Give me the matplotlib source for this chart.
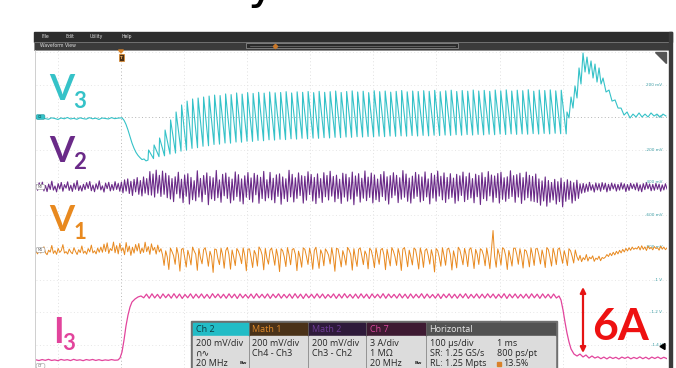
import numpy as np
import matplotlib.pyplot as plt
from matplotlib.patches import Rectangle, FancyBboxPatch, Polygon

W, H = 676, 368

C_V3 = "#35c2c8"
C_V2 = "#6a2a88"
C_V1 = "#e8891f"
C_I3 = "#e2449c"

# ---- Ch2 (V3), mV, 200 mV/div ----
v3_pre = [-6, -12, -4, -10, -14, -5, -9, -15, -6, -11, -3, -12, -8, -14,
          -5, -10, -13, -4, -11, -7, -15, -6, -9, -12, -4, -10, -7, -5]
v3_drop_t = [1.6, 4.8, 7.9, 11.1, 14.3, 17.4, 20.6, 23.8, 26.9, 30.1, 33.3, 36.5, 39.6]
v3_drop = [-5, -20, -45, -80, -120, -160, -192, -218, -236, -250, -262, -258, -270]
v3_troughs = [-265, -256, -244, -239, -228, -222, -210, -204, -193, -189, -180, -177, -169, -167, -160, -161,
              -154, -155, -149, -150, -144, -146, -140, -142, -137, -139, -134, -136, -131, -134, -130,
              -131, -127, -129, -125, -127, -123, -125, -121, -123, -120, -122, -118, -121, -117, -119,
              -116, -118, -114, -117, -113,
              -116, -112, -114, -111, -113, -109, -112, -108, -111, -107, -110, -106, -109, -105, -108,
              -104, -107, -104, -106, -102, -105, -101, -104, -100, -103]
v3_peaks = [-203, -172, -129, -80, -18, 31, 74, 98, 111, 117, 123, 129, 135, 132, 142, 138,
            148, 141, 150, 145, 152, 147, 154, 149, 151, 156, 148, 155, 152, 157, 150,
            158, 152, 156, 160, 151, 157, 161, 154, 159, 150, 162, 156, 160, 153, 158, 163, 155, 160, 157, 162,
            158, 164, 156, 161, 165, 157, 163, 159, 166, 160, 164, 158, 166, 161, 167, 160, 165, 162, 168,
            159, 166, 163, 167, 161, 165]
v3_last_trough = -104
v3_post_t = [706.8, 710.0, 713.2, 716.3, 719.5, 722.7, 725.9, 729.0, 732.2, 735.4, 738.5, 741.7,
             744.9, 748.1, 751.2, 754.4, 757.6, 760.8, 763.9, 768.7, 773.4, 778.2, 783.0, 787.7,
             792.5, 797.2, 802.0, 806.7, 811.4, 816.2, 821.0, 825.7, 830.5, 835.2, 840.0, 844.8,
             849.4, 854.2, 859.0, 863.7]
v3_post = [31, -6, 123, 55, 191, 117, 302, 203, 394, 277, 369, 265, 345, 240, 326, 215, 302, 203,
           240, 154, 166, 98, 105, 55, 55, 12, 31, -6, 18, 0, 25, 0, 18, 0, 25, 6, 18, 0, 18, 6]

# ---- Math 2 (V2), mV, 200 mV/div ----
v2 = [14, -20, 26, -11, 30, -24, 9, -28, 18, -15,
      36, -19, 6, -30, 21, -12, 28, -26, 15, -7,
      32, -21, 11, -27, 23, -14, 40, -22, 8, -25,
      17, -16, 27, -9, 34, -23, 12, -29, 20, -13,
      38, -18, 7, -31, 24, -10, 29, -24, 16, -20,
      33, -15, 22, -26,
      30, -36, 44, -25, 50, -40, 35, -52, 47, -30, 58, -45, 40, -55, 62, -38, 52, -48,
      95, -50, 80, -62, 104, -38, 72, -58, 98, -45, 85, -66,
      70, -74, 52, -90, 63, -42, 91, -68, 48, -96,
      74, -57, 82, -105, 59, -78, 39, -85, 100, -62,
      53, -91, 71, -46, 87, -109, 65, -73, 57, -83,
      102, -66, 44, -94, 78, -54, 86, -70, 61, -98,
      49, -81, 93, -59, 76, -88, 50, -104, 69, -63,
      89, -77, 56, -93, 84, -48, 73, -100, 60, -71,
      96, -85, 45, -67, 90, -79, 54, -97, 75, -58,
      81, -106, 62, -72, 51, -89, 103, -61, 78, -92,
      57, -70, 87, -53, 70, -99, 66, -81, 94, -46,
      77, -86, 59, -102, 81, -67, 52, -95, 88, -60,
      71, -80, 97, -56, 65, -91, 73, -71, 48, -101,
      85, -62, 79, -87, 58, -74, 92, -109, 68, -57,
      82, -93, 54, -69, 99, -84, 61, -64, 86, -98,
      74, -78, 49, -90, 77, -59, 95, -82, 63, -105,
      70, -66, 88, -51, 72, -96, 57, -75, 101, -63,
      80, -88, 55, -99, 67, -70, 90, -58, 76, -92,
      62, -83, 93, -61, 50, -104, 84, -68, 73, -87,
      98, -56, 66, -79, 87, -95, 59, -73, 82, -64,
      55, -100, 78, -85, 69, -52, 92, -90, 64, -77,
      86, -67, 52, -97, 79, -60, 71, -108, 88, -72,
      60, -84, 95, -55, 74, -93, 68, -65, 83, -99,
      91, -76, 57, -88, 63, -71, 100, -59, 70, -94,
      76, -62, 85, -101, 58, -80, 92, -66, 72, -86,
      65, -90, 80,
      -95, 50, -112, 38, -86, 62, -118, 40, -94, 28,
      -80, 47, -105, 33, -90, 55, -122, 30, -88, 45,
      -76, 36, -99, 26, -84, 42, -70, 20,
      -38, 22, -33, 18, -27, 29, -20, 14, -31, 25,
      -18, 21, -26, 27, -15, 23, -30, 17, -22, 24,
      -12, 19, -25, 16, -19, 26, -13, 20, -28, 15,
      -21, 23, -10, 18, -17, 25, -24, 14, -29, 21,
      -16, 27, -11, 19, -23, 16, -20, 22, -14, 18,
      -26, 13, -18, 20, -12]

# ---- Math 1 (V1), mV, 200 mV/div ----
v1 = [-8, -24, 4, -19, -6, 20, -17, -29, -1, -13,
      28, -21, -4, -27, 10, -15, -3, 33, -19, -10,
      -25, 6, -13, -23, 14, -9, -28, 2, -16, 25,
      -20, -7, -26, 9, -12, 30, -18, -5, -24, 12,
      -14,
      18, -14, 36, -9, 44, -21, 9, -4, 49, -17,
      27, -24, 41, -7, 14, -29, 46, -11, 24, -33,
      17, -19, 34, -6, 40, -22, 12, -15, 48, -10,
      21, -27, 38, -3, 16, -25, 30, -12,
      8, -30, -95, -5, -42, -120, 12,
      -10, -35, -88, 15, -28, -130, 4,
      10, -45, -105, -2, -38, -92, 18,
      -6, -26, -125, 9, -48, -85, 2,
      14, -33, -100, -8, -40, -138, 6,
      3, -52, -90, 11, -30, -112, -4,
      16, -29, -118, 0, -44, -96, 9,
      -8, -38, -84, 13, -34, -128, 5,
      7, -47, -108, -3, -27, -99, 19,
      2, -31, -122, 10, -50, -87, -1,
      12, -36, -94, 6, -41, -133, 8,
      -5, -43, -102, 15, -29, -91, 3,
      9, -27, -127, -7, -46, -106, 13,
      4, -39, -89, 11, -33, -119, -2,
      17, -48, -113, 1, -25, -97, 7,
      -9, -32, -86, 14, -42, -131, 10,
      6, -44, -104, -4, -37, -93, 16,
      0, -28, -124, 8, -51, -101, 4,
      13, -35, -90, -6, -30, -116, 11,
      -3, -46, -109, 12, -39, -88, 1,
      10, -30, -121, 5, -45, -98, 15,
      -7, -41, -95, 9, -32, -126, 6,
      15, -37, -103, -1, -43, -92, 12,
      3, -49, -117, 13, -28, -107, -3,
      8, -33, -87, 2, -40, -135, 9,
      -4, -45, -100, 14, -35, -94, 5,
      11, -29, -123, -5, -47, -110, 17,
      1, -42, -91, 10, -31, -102, 3,
      14, -38, -114, 4, -26, -89, 8,
      -2, -34, -97, 12, -44, -115, 6,
      120, -40, -106, 7, -30, -93, 14,
      5, -36, -120, -3, -46, -99, 10,
      12, -27, -88, 8, -38, -111, 2,
      -6, -43, -104, 13, -33, -95, 7,
      9, -31, -86, 0, -41, -108, 15,
      2, -45, -99, 11, -29, -90, 4,
      13, -34, -82, -4, -42, -96, 8,
      -5, -38, -80, 0,
      -40, -64, -33, -72, -47, -60, -28, -68, -44, -54, -36, -70, -50, -58, -38, -66, -46, -52,
      -44, -28, -40, -20, -35, -14, -30, -8, -24, -2, -18, 4, -12, 10, -6, 14, -2, 18, 4, 12, 6,
      22, 0, 26, 4, 19, -3, 24, 7, 16, 1, 21, 9, 14, -1, 23, 5, 18, 2, 12]

# ---- Ch7 (I3), A, 3 A/div ----
i3_pre = [0.02, -0.05, 0.04, -0.03, 0.06, -0.04, 0.01, -0.06, 0.05, -0.02, 0.03, -0.05, 0.06,
          -0.03, 0.02, -0.06, 0.04, -0.02, 0.05, -0.04, 0.03, -0.05, 0.01, -0.03, 0.04, -0.02]
i3_rise_t = [-4.8, -1.6, 1.6, 4.8, 7.9, 11.1, 14.3, 17.4, 22.2, 27.0, 31.7]
i3_rise = [0.0, 0.18, 0.74, 1.85, 3.14, 4.15, 4.89, 5.35, 5.63, 5.82, 5.91]
i3_lo = [5.74, 5.70, 5.73, 5.69, 5.75, 5.71, 5.72, 5.68, 5.74, 5.70,
         5.73, 5.71, 5.69, 5.75, 5.72, 5.70, 5.74, 5.68, 5.73, 5.71,
         5.70, 5.74, 5.72, 5.69, 5.75, 5.71, 5.73, 5.70, 5.72, 5.68,
         5.74, 5.71, 5.73, 5.70, 5.75, 5.69, 5.72, 5.74, 5.71, 5.70,
         5.73, 5.68, 5.74, 5.72, 5.70, 5.75, 5.71, 5.73, 5.69, 5.72,
         5.74, 5.70, 5.73, 5.71, 5.68, 5.75, 5.72, 5.70, 5.74, 5.69,
         5.73, 5.71, 5.72, 5.75, 5.70, 5.73, 5.68, 5.74, 5.71, 5.72,
         5.70, 5.74, 5.69, 5.73, 5.71, 5.72]
i3_hi = [6.08, 6.11, 6.06, 6.10, 6.07, 6.12, 6.09, 6.05, 6.11, 6.08,
         6.10, 6.06, 6.12, 6.09, 6.07, 6.11, 6.08, 6.10, 6.05, 6.09,
         6.12, 6.07, 6.10, 6.08, 6.11, 6.06, 6.09, 6.12, 6.08, 6.10,
         6.07, 6.11, 6.09, 6.05, 6.10, 6.08, 6.12, 6.06, 6.09, 6.11,
         6.08, 6.10, 6.07, 6.12, 6.09, 6.06, 6.11, 6.08, 6.10, 6.07,
         6.12, 6.09, 6.05, 6.10, 6.08, 6.11, 6.07, 6.09, 6.12, 6.06,
         6.10, 6.08, 6.11, 6.09, 6.07, 6.12, 6.08, 6.10, 6.06, 6.09,
         6.11, 6.08, 6.10, 6.07, 6.09]
i3_fall_t = [694.1, 697.3, 700.5, 703.6, 706.8, 710.0, 713.2, 717.9, 722.7, 727.4, 732.2, 736.9,
             741.7, 746.4]
i3_fall = [5.91, 5.54, 4.62, 3.51, 2.49, 1.66, 1.02, 0.55, 0.37, 0.55, 0.28, 0.46, 0.18, 0.37]
i3_tail = [0.18, 0.30, 0.12, 0.27, 0.10, 0.28, 0.14, 0.25, 0.09, 0.27, 0.15, 0.28, 0.11,
           0.24, 0.13, 0.29, 0.12, 0.26, 0.09, 0.27, 0.14, 0.28, 0.12, 0.25, 0.13]

# display offsets (divisions) and scales
V3_OFF, V2_OFF, V1_OFF, I3_OFF = 0.0, -2.154, -4.092, -7.477
MV_DIV, A_DIV = 200.0, 3.0

right_labels = ["200 mV", "0 V", "-200 mV", "-400 mV", "-600 mV", "-800 mV", "-1 V", "-1.2 V", "-1.4 V"]
right_label_div = [1, 0, -1, -2, -3, -4, -5, -6, -7]

# ---- time bases (µs, trigger at 0, 100 µs/div) ----
T0, T1 = -134.7, 865.3
PERIOD = 8.72

t_v3_pre = np.arange(-135, 1, 5)
t_cyc = 42.8 + PERIOD * np.arange(len(v3_peaks))
t_saw = np.column_stack([t_cyc, t_cyc + 0.9]).ravel()
y_saw = np.column_stack([v3_troughs, v3_peaks]).ravel()
t_v3 = np.concatenate([t_v3_pre, v3_drop_t, t_saw, [t_cyc[-1] + PERIOD], v3_post_t])
y_v3 = np.concatenate([v3_pre, v3_drop, y_saw, [v3_last_trough], v3_post])

t_noise = np.linspace(T0, T1, len(v2))

t_i3_pre = np.arange(-135, -9, 5)
t_rip = 36 + PERIOD / 2 * np.arange(len(i3_lo) + len(i3_hi))
y_rip = np.empty(len(t_rip))
y_rip[0::2] = i3_lo
y_rip[1::2] = i3_hi
t_i3_tail = np.linspace(751, 865, len(i3_tail))
t_i3 = np.concatenate([t_i3_pre, i3_rise_t, t_rip, i3_fall_t, t_i3_tail])
y_i3 = np.concatenate([i3_pre, i3_rise, y_rip, i3_fall, i3_tail])

fig = plt.figure(figsize=(W / 100, H / 100), dpi=100)
fig.patch.set_facecolor("white")

# scope graticule + traces
ax = fig.add_axes([36 / W, 0, 631 / W, 318 / H], zorder=2)
ax.set_xlim(T0, T1)
ax.set_ylim(-7.723, 2.062)
ax.axis("off")
for tx in range(-100, 900, 100):
    ax.axvline(tx, color="#b5b5b5" if tx == 0 else "#e0e0e0", lw=0.7,
               ls=(0, (1, 2.5)), zorder=0)
for d in range(-7, 3):
    ax.axhline(d, color="#b5b5b5" if d == 0 else "#e6e6e6", lw=0.7,
               ls=(0, (1, 2.5)), zorder=0)
for lab, d in zip(right_labels, right_label_div):
    ax.text(858, d, lab, fontsize=3.0, color="#3c9ea6", ha="right", va="center", zorder=1)

ax.plot(t_noise, np.array(v1) / MV_DIV + V1_OFF, color=C_V1, lw=0.7, zorder=3)
ax.plot(t_noise, np.array(v2) / MV_DIV + V2_OFF, color=C_V2, lw=0.8, zorder=3)
ax.plot(t_i3, y_i3 / A_DIV + I3_OFF, color=C_I3, lw=0.9, zorder=3)
ax.plot(t_v3, y_v3 / MV_DIV + V3_OFF, color=C_V3, lw=0.8, zorder=4)

# window chrome, labels and readout panel, in pixel coordinates
ui = fig.add_axes([0, 0, 1, 1], zorder=3)
ui.set_xlim(0, W)
ui.set_ylim(H, 0)
ui.axis("off")
ui.patch.set_alpha(0)

ui.text(262, -2, "y", fontsize=34, color="black", ha="center", va="baseline")

ui.add_patch(Rectangle((34, 32), 638, 9.5, color="#2d2d2d"))
ui.add_patch(Rectangle((34, 41.5), 638, 8.5, facecolor="#3b3b3b", edgecolor="#8a8a8a", lw=0.5))
ui.add_patch(Rectangle((668.5, 32), 3.5, 340, color="#3a3a3a"))
ui.plot([34.5, 34.5], [50, 368], color="#c8c8c8", lw=0.6)
for txt, x in zip(["File", "Edit", "Utility", "Help"], [42, 65, 90, 122]):
    ui.text(x, 36.8, txt, fontsize=3.3, color="#dddddd", va="center")
ui.text(40, 45.9, "Waveform View", fontsize=3.3, color="#dddddd", va="center")
ui.add_patch(Rectangle((246, 43), 212, 5, facecolor="#2a2a2a", edgecolor="#9a9a9a", lw=0.5))
ui.plot([250, 455], [45.5, 45.5], color="#777777", lw=0.5)
ui.plot([275], [45.5], marker="D", ms=2.2, color="#c8782a")

# trigger marker
ui.add_patch(Polygon([(118.5, 50), (123.5, 50), (121, 53)], color="#d8842a"))
ui.add_patch(Rectangle((118.5, 54), 5, 7, facecolor="#4a2e12", edgecolor="#e08a2a", lw=0.5))
ui.text(121, 57.6, "T", fontsize=3, color="#f2b060", ha="center", va="center", fontweight="bold")
ui.add_patch(Polygon([(655, 52), (666, 52), (666, 63)], color="#555555"))

# channel reference tags on the left edge
ui.add_patch(FancyBboxPatch((36.5, 115), 8, 4, boxstyle="round,pad=0.4,rounding_size=1.5",
                            facecolor=C_V3, edgecolor="#2a9aa0", lw=0.4))
ui.text(40.5, 117, "C2", fontsize=2.4, color="#0d3a40", ha="center", va="center")
for y, tag in [(187, "M2"), (250, "M1"), (366, "C7")]:
    ui.add_patch(FancyBboxPatch((36.5, y - 2), 8, 4, boxstyle="round,pad=0.4,rounding_size=1.5",
                                facecolor="white", edgecolor="#9a9a9a", lw=0.4))
    ui.text(40.5, y, tag, fontsize=2.4, color="#555555", ha="center", va="center")
ui.add_patch(Polygon([(660, 346.5), (665, 343.5), (665, 349.5)], color="black"))

# big channel names
name_font = dict(family="Lato", fontweight="bold")
for big, sub, color, x, yb, xs, ys in [("V", "3", C_V3, 49, 100, 73, 108),
                                       ("V", "2", C_V2, 49, 162, 73, 169),
                                       ("V", "1", C_V1, 49, 231, 74, 239),
                                       ("I", "3", C_I3, 53, 343, 62, 350)]:
    ui.text(x, yb, big, fontsize=26, color=color, va="baseline", **name_font)
    ui.text(xs, ys, sub, fontsize=16, color=color, va="baseline", **name_font)

# 6 A step annotation
ui.annotate("", xy=(583, 287), xytext=(583, 353),
            arrowprops=dict(arrowstyle="<|-|>", color="#e51414", lw=1.6, mutation_scale=8,
                            shrinkA=0, shrinkB=0))
ui.text(592, 340, "6A", fontsize=32, color="#ee1111", va="baseline", **name_font)

# readout panel
ui.add_patch(Rectangle((191, 321), 365.5, 50, color="#6f6f6f"))
boxes = [(193, 248, "Ch 2", "#22bcc6", "#0e3a42"),
         (249.5, 307, "Math 1", "#4a3218", "#e08a2a"),
         (308.5, 365, "Math 2", "#2e1a3a", "#6e3c96"),
         (366.5, 425, "Ch 7", "#3e1a32", "#d8479c"),
         (426.5, 554.5, "Horizontal", "#525252", "#e8e8e8")]
for x0, x1, title, hbg, hfg in boxes:
    ui.add_patch(Rectangle((x0, 322.5), x1 - x0, 12.5, color=hbg))
    ui.add_patch(Rectangle((x0, 335.8), x1 - x0, 40, color="#dcdcdc"))
    ui.text(x0 + 3, 329, title, fontsize=6.5, color=hfg, va="center", family="Open Sans")

body = dict(fontsize=6.5, color="#262626", va="center", family=["Open Sans", "DejaVu Sans"])
rows = [343.5, 353.5, 364]
ui.text(196, rows[0], "200 mV/div", **body)
ui.text(196, rows[1], "∩∿", **body)
ui.text(196, rows[2], "20 MHz", **body)
ui.text(240, rows[2] - 1, "Bw", fontsize=3.2, color="#262626", va="center", fontweight="bold")
ui.text(252.5, rows[0], "200 mV/div", **body)
ui.text(252.5, rows[1], "Ch4 - Ch3", **body)
ui.text(311.5, rows[0], "200 mV/div", **body)
ui.text(311.5, rows[1], "Ch3 - Ch2", **body)
ui.text(369.5, rows[0], "3 A/div", **body)
ui.text(369.5, rows[1], "1 MΩ", **body)
ui.text(369.5, rows[2], "20 MHz", **body)
ui.text(415, rows[2] - 1, "Bw", fontsize=3.2, color="#262626", va="center", fontweight="bold")
ui.text(430, rows[0], "100 µs/div", **body)
ui.text(497, rows[0], "1 ms", **body)
ui.text(430, rows[1], "SR: 1.25 GS/s", **body)
ui.text(497, rows[1], "800 ps/pt", **body)
ui.text(430, rows[2], "RL: 1.25 Mpts", **body)
ui.add_patch(Rectangle((497, rows[2] - 2.5), 4, 4.5, color="#d9822b"))
ui.text(503, rows[2], "13.5%", **body)

fig.savefig("out.png", dpi=100)
